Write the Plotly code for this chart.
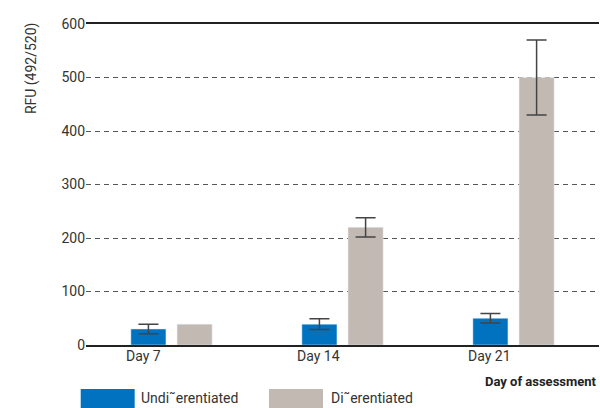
import plotly.graph_objects as go

categories = ["Day 7", "Day 14", "Day 21"]
undiff_values = [30, 39, 50]
undiff_errors = [9, 10, 9]
diff_values = [39, 220, 500]
diff_errors = [None, 18, 70]
series_names = ["Undi˜erentiated", "Di˜erentiated"]
y_ticks = [0, 100, 200, 300, 400, 500, 600]

BLUE = "#0072BF"
BEIGE = "#C3B9B3"
TXT = "#333333"
FONT = "Roboto"


def err_array(errs):
    # missing error values are not drawn ("NaN" is skipped by plotly.js)
    return [e if e is not None else "NaN" for e in errs]


fig = go.Figure()
fig.add_trace(go.Bar(
    x=categories, y=undiff_values, name=series_names[0], marker_color=BLUE,
    error_y=dict(type="data", array=err_array(undiff_errors), visible=True, color="#444", thickness=1.5, width=10),
    showlegend=False,
))
fig.add_trace(go.Bar(
    x=categories, y=diff_values, name=series_names[1], marker_color=BEIGE,
    error_y=dict(type="data", array=err_array(diff_errors), visible=True, color="#444", thickness=1.5, width=10),
    showlegend=False,
))

fig.update_layout(
    width=600, height=408,
    margin=dict(l=86, r=1, t=24, b=63),
    paper_bgcolor="white", plot_bgcolor="white",
    barmode="group", bargap=0.46, bargroupgap=0.24,
    font=dict(family=FONT, size=14, color=TXT),
    xaxis=dict(
        showticklabels=False, showgrid=False, zeroline=False,
        showline=True, mirror=True, linecolor="#222", linewidth=1.5,
        ticks="",
    ),
    yaxis=dict(
        range=[0, 600], tickvals=y_ticks, ticktext=[str(v) for v in y_ticks],
        showgrid=True, gridcolor="#555", gridwidth=1, griddash="5px,4px",
        zeroline=False, showline=False, ticks="",
        tickfont=dict(family=FONT, size=14, color=TXT),
    ),
)

# category labels, left aligned under the first bar of each group
for c in categories:
    fig.add_annotation(x=c, y=0, xref="x", yref="y", text=c, showarrow=False,
                       xanchor="left", yanchor="top", xshift=-48, yshift=-1,
                       font=dict(family=FONT, size=14, color=TXT))

# axis titles
fig.add_annotation(x=-0.105, y=0.863, xref="paper", yref="paper", text="RFU (492/520)",
                   textangle=-90, showarrow=False, xanchor="center", yanchor="middle",
                   font=dict(family=FONT, size=14, color=TXT))
fig.add_annotation(x=1.0, y=-0.114, xref="paper", yref="paper", text="<b>Day of assessment</b>",
                   showarrow=False, xanchor="right", yanchor="middle",
                   font=dict(family=FONT, size=13, color="#222"))

# legend
legend_items = [(series_names[0], BLUE, -0.0103, 0.0949, 0.1033),
                (series_names[1], BEIGE, 0.3567, 0.462, 0.4737)]
for name, col, x0, x1, tx in legend_items:
    fig.add_shape(type="rect", xref="paper", yref="paper", x0=x0, x1=x1, y0=-0.137, y1=-0.1963,
                  fillcolor=col, line=dict(width=0), layer="above")
    fig.add_annotation(x=tx, y=-0.1963, xref="paper", yref="paper", text=name, showarrow=False,
                       xanchor="left", yanchor="bottom", font=dict(family=FONT, size=14, color=TXT))

fig.write_html("out.html", config={"displayModeBar": False},
               post_script="document.body.style.margin='0';")
